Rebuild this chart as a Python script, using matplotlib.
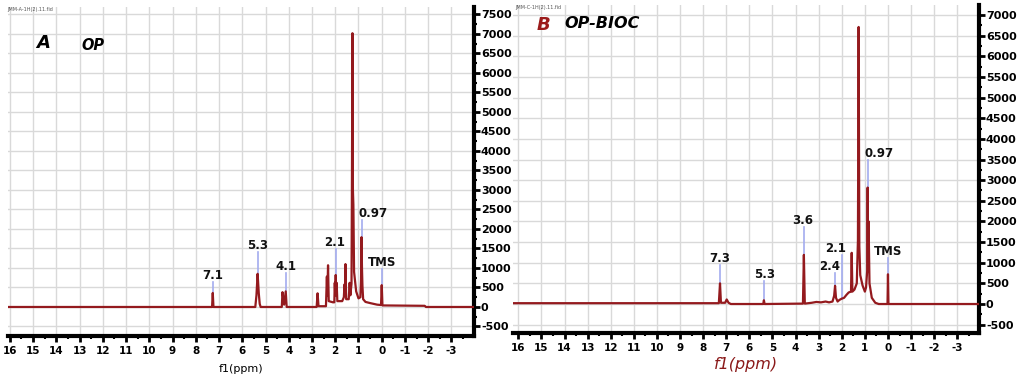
import matplotlib
matplotlib.use('Agg')
import matplotlib.pyplot as plt
from matplotlib.ticker import MultipleLocator

plt.rcParams['font.family'] = 'DejaVu Sans'
plt.rcParams['font.weight'] = 'bold'
plt.rcParams['axes.unicode_minus'] = False

# ---- panel A : OP ----
op_ppm = [16.1, 7.30, 7.27, 7.24, 5.44, 5.39, 5.34, 5.29, 5.25, 5.21,
          4.30, 4.27, 4.20, 4.13, 4.09, 2.80, 2.76, 2.72, 2.40, 2.36,
          2.34, 2.31, 2.28, 2.10, 2.04, 2.02, 2.00, 1.98, 1.96, 1.94,
          1.91, 1.70, 1.63, 1.60, 1.58, 1.56, 1.53, 1.42, 1.38, 1.35,
          1.30, 1.28, 1.26, 1.24, 1.22, 1.19, 1.10, 1.00, 0.92, 0.89,
          0.87, 0.85, 0.83, 0.80, 0.70, 0.50, 0.20, 0.03, 0.00, -0.03,
          -1.85, -1.90, -4.1]
op_int = [0, 0, 360, 0, 0, 300, 850, 350, 80, 0,
          0, 380, 60, 400, 0, 0, 350, 20, 20, 780,
          300, 1070, 150, 120, 120, 620, 300, 820, 300, 620,
          150, 150, 250, 580, 400, 1100, 200, 200, 620, 300,
          600, 3460, 7020, 3000, 2620, 900, 400, 220, 250, 700,
          1790, 1000, 540, 200, 130, 100, 60, 50, 560, 40,
          30, 0, 0]
op_labels = ['7.1', '5.3', '4.1', '2.1', '0.97', 'TMS']
op_label_ppm = [7.26, 5.34, 4.13, 1.98, 0.87, -0.02]
op_label_low = [360, 850, 400, 820, 1790, 560]
op_label_high = [640, 1420, 870, 1480, 2230, 975]
op_text_ppm = [7.26, 5.33, 4.14, 2.01, 0.36, -0.03]

# ---- panel B : OP-BIOC ----
bioc_ppm = [16.3, 7.32, 7.27, 7.23, 7.05, 6.98, 6.90, 6.80, 5.40, 5.37,
            5.34, 3.68, 3.64, 3.60, 3.30, 3.10, 2.90, 2.70, 2.55, 2.40,
            2.33, 2.29, 2.25, 2.18, 2.10, 2.00, 1.90, 1.80, 1.70, 1.60,
            1.57, 1.54, 1.45, 1.35, 1.30, 1.27, 1.24, 1.20, 1.10, 1.00,
            0.95, 0.90, 0.88, 0.86, 0.84, 0.80, 0.70, 0.55, 0.40, 0.02,
            0.00, -0.02, -4.0]
bioc_int = [20, 20, 500, 30, 30, 110, 30, 0, 0, 90,
            0, 10, 1190, 10, 30, 50, 40, 60, 40, 60,
            200, 440, 150, 60, 100, 130, 150, 220, 280, 300,
            1240, 300, 350, 500, 1540, 6710, 1400, 700, 450, 300,
            400, 800, 2820, 800, 2000, 500, 150, 30, 0, 0,
            720, 0, 0]
bioc_labels = ['7.3', '5.3', '3.6', '2.4', '2.1', '0.97', 'TMS']
bioc_label_ppm = [7.26, 5.37, 3.64, 2.28, 1.98, 0.88, 0.0]
bioc_label_low = [500, 90, 1190, 440, 120, 2820, 720]
bioc_label_high = [945, 564, 1872, 758, 1187, 3488, 1114]
bioc_text_ppm = [7.27, 5.32, 3.67, 2.54, 2.25, 0.38, -0.01]

W, H = 1021, 381
line_red = '#941a1e'
marker_blue = '#a3acef'

fig = plt.figure(figsize=(W / 100, H / 100), dpi=100)


def px_axes(left, top, right, bottom):
    return fig.add_axes([left / W, 1 - bottom / H, (right - left) / W, (bottom - top) / H])


def style_panel(ax, xlim, ylim):
    ax.set_xlim(*xlim)
    ax.set_ylim(*ylim)
    ax.xaxis.set_major_locator(MultipleLocator(1))
    ax.xaxis.set_minor_locator(MultipleLocator(0.5))
    ax.yaxis.set_major_locator(MultipleLocator(500))
    ax.yaxis.set_minor_locator(MultipleLocator(250))
    ax.yaxis.tick_right()
    ax.grid(True, which='major', color='#d9d9d9', lw=1.0)
    ax.set_axisbelow(True)
    for s in ['top', 'left']:
        ax.spines[s].set_visible(False)
    for s in ['right', 'bottom']:
        ax.spines[s].set_linewidth(3)
    ax.tick_params(axis='y', which='major', length=4, width=2, pad=1, labelsize=8)
    ax.tick_params(axis='y', which='minor', length=2, width=1.5)
    ax.tick_params(axis='x', which='major', length=4, width=2, pad=3, labelsize=7.5)
    ax.tick_params(axis='x', which='minor', length=2, width=1.5)


def add_marks(ax, ppm, low, high, labels, text_ppm):
    for x, y0, y1, lab, tx in zip(ppm, low, high, labels, text_ppm):
        ax.plot([x, x], [y0, y1], color=marker_blue, lw=1.2, zorder=2)
        ax.text(tx, y1, lab, ha='center', va='bottom', fontsize=8.5, color='#111111')


# panel A
axA = px_axes(8, 7, 474, 336)
style_panel(axA, (16.08, -3.97), (-744, 7692))
add_marks(axA, op_label_ppm, op_label_low, op_label_high, op_labels, op_text_ppm)
axA.plot(op_ppm, op_int, color=line_red, lw=1.6, zorder=3)
axA.set_xlabel('f1(ppm)', fontsize=8, labelpad=6)
fig.text(43 / W, 1 - 43 / H, 'A', fontsize=13, style='italic', ha='center', va='center')
fig.text(93 / W, 1 - 45 / H, 'OP', fontsize=10.5, style='italic', ha='center', va='center')
fig.text(7 / W, 1 - 10 / H, 'JMM-A-1H(2).11.fid', fontsize=3.5, weight='normal',
         color='#555555', ha='left', va='center')

# panel B
axB = px_axes(513, 5, 979, 333)
style_panel(axB, (16.23, -3.94), (-702, 7242))
add_marks(axB, bioc_label_ppm, bioc_label_low, bioc_label_high, bioc_labels, bioc_text_ppm)
axB.plot(bioc_ppm, bioc_int, color=line_red, lw=1.6, zorder=3)
axB.set_xlabel('f1(ppm)', fontsize=11.5, style='italic', color='#8b1a1a', labelpad=3)
fig.text(543 / W, 1 - 25 / H, 'B', fontsize=13, style='italic', color='#9b1b1b',
         ha='center', va='center')
fig.text(602 / W, 1 - 24 / H, 'OP-BIOC', fontsize=11.5, style='italic', ha='center', va='center')
fig.text(515 / W, 1 - 7 / H, 'JMM-C-1H(2).11.fid', fontsize=3.5, weight='normal',
         color='#555555', ha='left', va='center')

fig.savefig('out.png', dpi=100)
